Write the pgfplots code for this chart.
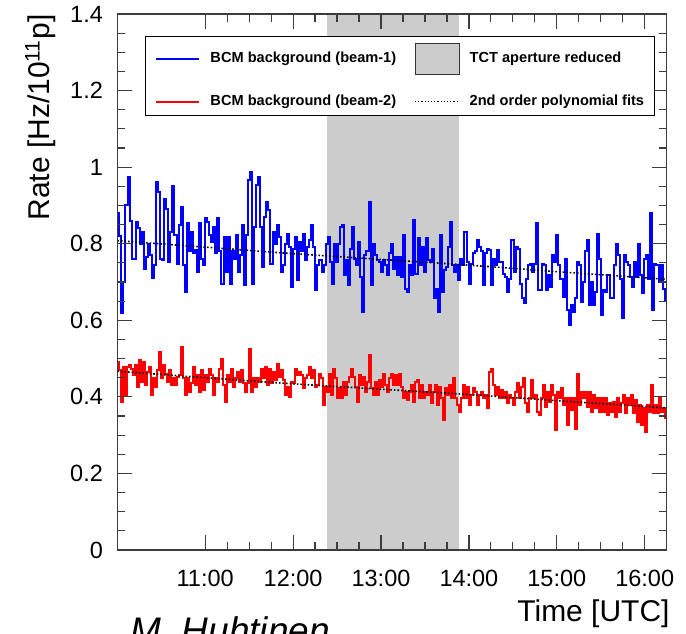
\documentclass[border=0pt]{standalone}
\usepackage{fontspec}
\setmainfont{Liberation Sans}
\usepackage{pgfplots}
\pgfplotsset{compat=1.18}
\usepackage{pgfplotstable}

\definecolor{shade}{RGB}{204,204,204}
\definecolor{axisgray}{RGB}{60,60,60}

% BCM background beam-1 (uniform bins from 10:00 to 16:15)
\pgfplotstableread[row sep=\\]{
y\\
0.88\\ 0.82\\ 0.62\\ 0.70\\ 0.90\\ 0.975\\ 0.86\\ 0.76\\ 0.76\\ 0.857\\
0.84\\ 0.80\\ 0.83\\ 0.735\\ 0.765\\ 0.80\\ 0.77\\ 0.71\\ 0.745\\ 0.96\\
0.935\\ 0.76\\ 0.757\\ 0.918\\ 0.89\\ 0.753\\ 0.83\\ 0.95\\ 0.822\\ 0.748\\
0.848\\ 0.896\\ 0.744\\ 0.674\\ 0.853\\ 0.78\\ 0.83\\ 0.775\\ 0.783\\ 0.726\\
0.853\\ 0.76\\ 0.744\\ 0.866\\ 0.857\\ 0.822\\ 0.805\\ 0.844\\ 0.775\\ 0.866\\
0.78\\ 0.696\\ 0.818\\ 0.726\\ 0.818\\ 0.696\\ 0.78\\ 0.76\\ 0.822\\ 0.726\\
0.77\\ 0.848\\ 0.692\\ 0.822\\ 0.966\\ 0.988\\ 0.696\\ 0.844\\ 0.953\\ 0.975\\
0.844\\ 0.74\\ 0.87\\ 0.91\\ 0.887\\ 0.748\\ 0.83\\ 0.80\\ 0.848\\ 0.818\\
0.726\\ 0.744\\ 0.80\\ 0.826\\ 0.792\\ 0.687\\
0.787\\ 0.818\\ 0.705\\ 0.805\\ 0.78\\ 0.826\\ 0.757\\ 0.792\\ 0.809\\ 0.848\\
0.792\\ 0.679\\ 0.744\\ 0.757\\ 0.726\\ 0.744\\ 0.80\\ 0.818\\ 0.753\\ 0.696\\
0.80\\ 0.753\\ 0.80\\ 0.844\\ 0.848\\ 0.718\\ 0.757\\ 0.692\\ 0.787\\ 0.844\\
0.76\\ 0.744\\ 0.805\\ 0.713\\ 0.622\\ 0.77\\ 0.78\\ 0.909\\ 0.692\\ 0.80\\
0.77\\ 0.757\\ 0.753\\ 0.726\\ 0.757\\ 0.744\\ 0.718\\ 0.775\\ 0.80\\ 0.735\\
0.765\\ 0.718\\ 0.765\\ 0.713\\ 0.822\\ 0.683\\ 0.674\\ 0.744\\ 0.718\\ 0.861\\
0.722\\ 0.814\\ 0.744\\ 0.792\\ 0.726\\ 0.814\\ 0.757\\ 0.753\\ 0.787\\ 0.657\\
0.683\\ 0.622\\ 0.822\\ 0.674\\ 0.731\\ 0.74\\ 0.792\\ 0.857\\ 0.744\\ 0.726\\
0.744\\ 0.705\\ 0.76\\ 0.744\\ 0.83\\ 0.753\\ 0.696\\ 0.748\\ 0.775\\ 0.78\\
0.809\\ 0.792\\
0.78\\ 0.692\\ 0.775\\ 0.787\\ 0.783\\ 0.692\\ 0.76\\ 0.744\\ 0.783\\ 0.753\\
0.753\\ 0.722\\ 0.713\\ 0.674\\ 0.709\\ 0.809\\ 0.726\\ 0.792\\ 0.787\\ 0.696\\
0.657\\ 0.644\\ 0.709\\ 0.744\\ 0.748\\ 0.726\\ 0.748\\ 0.853\\ 0.679\\ 0.679\\
0.748\\ 0.744\\ 0.679\\ 0.718\\ 0.687\\ 0.77\\ 0.753\\ 0.822\\ 0.744\\ 0.709\\
0.661\\ 0.76\\ 0.626\\ 0.587\\ 0.64\\ 0.622\\ 0.657\\ 0.753\\ 0.744\\ 0.648\\
0.70\\ 0.78\\ 0.809\\ 0.64\\ 0.70\\ 0.64\\ 0.674\\ 0.826\\ 0.76\\ 0.613\\
0.679\\ 0.674\\ 0.718\\ 0.657\\ 0.657\\ 0.744\\ 0.80\\ 0.77\\ 0.709\\ 0.605\\
0.77\\ 0.753\\ 0.744\\ 0.713\\ 0.687\\ 0.753\\ 0.713\\ 0.80\\ 0.718\\ 0.67\\
0.76\\ 0.77\\ 0.709\\ 0.879\\ 0.626\\ 0.748\\ 0.744\\ 0.70\\ 0.744\\ 0.683\\
0.652\\ 0.652\\
}\beamone

% BCM background beam-2
\pgfplotstableread[row sep=\\]{
y\\
0.492\\ 0.47\\ 0.387\\ 0.478\\ 0.405\\ 0.478\\ 0.483\\ 0.474\\ 0.457\\ 0.483\\
0.426\\ 0.496\\ 0.439\\ 0.492\\ 0.43\\ 0.465\\ 0.478\\ 0.405\\ 0.448\\ 0.426\\
0.47\\ 0.518\\ 0.448\\ 0.483\\ 0.461\\ 0.439\\ 0.47\\ 0.43\\ 0.448\\ 0.43\\
0.452\\ 0.457\\ 0.531\\ 0.448\\ 0.405\\ 0.448\\ 0.413\\ 0.435\\ 0.478\\ 0.43\\
0.457\\ 0.413\\ 0.47\\ 0.417\\ 0.457\\ 0.439\\ 0.474\\ 0.457\\ 0.405\\ 0.448\\
0.439\\ 0.474\\ 0.50\\ 0.43\\ 0.387\\ 0.457\\ 0.439\\ 0.474\\ 0.426\\ 0.448\\
0.465\\ 0.439\\ 0.47\\ 0.435\\ 0.413\\ 0.435\\ 0.526\\ 0.413\\ 0.448\\ 0.426\\
0.448\\ 0.439\\ 0.474\\ 0.448\\ 0.478\\ 0.43\\ 0.474\\ 0.435\\ 0.465\\ 0.444\\
0.487\\ 0.452\\ 0.47\\ 0.444\\ 0.405\\ 0.426\\ 0.40\\ 0.439\\ 0.435\\ 0.474\\
0.457\\ 0.465\\
0.457\\ 0.422\\ 0.448\\ 0.457\\ 0.478\\ 0.448\\ 0.47\\ 0.426\\ 0.43\\ 0.461\\
0.448\\ 0.378\\ 0.426\\ 0.413\\ 0.461\\ 0.405\\ 0.474\\ 0.448\\ 0.396\\ 0.422\\
0.396\\ 0.439\\ 0.405\\ 0.439\\ 0.452\\ 0.474\\ 0.452\\ 0.426\\ 0.387\\ 0.457\\
0.43\\ 0.452\\ 0.413\\ 0.439\\ 0.509\\ 0.422\\ 0.405\\ 0.439\\ 0.405\\ 0.444\\
0.426\\ 0.461\\ 0.43\\ 0.413\\ 0.448\\ 0.461\\ 0.43\\ 0.457\\ 0.43\\ 0.461\\
0.426\\ 0.396\\ 0.413\\ 0.391\\ 0.413\\ 0.43\\ 0.387\\ 0.439\\ 0.444\\ 0.396\\
0.43\\ 0.396\\ 0.413\\ 0.405\\ 0.43\\ 0.383\\ 0.413\\ 0.43\\ 0.378\\ 0.426\\
0.396\\ 0.339\\ 0.422\\ 0.405\\ 0.43\\ 0.396\\ 0.448\\ 0.396\\ 0.378\\ 0.361\\
0.396\\ 0.43\\ 0.396\\ 0.426\\ 0.378\\ 0.405\\ 0.422\\ 0.413\\ 0.378\\ 0.405\\
0.413\\ 0.396\\
0.405\\ 0.37\\ 0.465\\ 0.474\\ 0.43\\ 0.405\\ 0.426\\ 0.396\\ 0.417\\ 0.396\\
0.413\\ 0.383\\ 0.405\\ 0.396\\ 0.378\\ 0.413\\ 0.435\\ 0.396\\ 0.426\\ 0.448\\
0.383\\ 0.361\\ 0.396\\ 0.444\\ 0.396\\ 0.405\\ 0.361\\ 0.352\\ 0.396\\ 0.43\\
0.374\\ 0.413\\ 0.387\\ 0.43\\ 0.405\\ 0.313\\ 0.413\\ 0.396\\ 0.422\\ 0.378\\
0.396\\ 0.326\\ 0.396\\ 0.365\\ 0.396\\ 0.317\\ 0.461\\ 0.378\\ 0.413\\ 0.396\\
0.413\\ 0.374\\ 0.413\\ 0.361\\ 0.405\\ 0.37\\ 0.396\\ 0.361\\ 0.396\\ 0.361\\
0.396\\ 0.352\\ 0.383\\ 0.361\\ 0.387\\ 0.348\\ 0.396\\ 0.361\\ 0.383\\ 0.405\\
0.357\\ 0.396\\ 0.378\\ 0.405\\ 0.357\\ 0.391\\ 0.335\\ 0.378\\ 0.326\\ 0.37\\
0.309\\ 0.378\\ 0.361\\ 0.43\\ 0.357\\ 0.378\\ 0.357\\ 0.396\\ 0.361\\ 0.37\\
0.344\\ 0.344\\
}\beamtwo

\begin{document}
\begin{tikzpicture}
\begin{axis}[
  at={(58.65pt,41.5pt)}, anchor=south west,
  scale only axis, width=274.7pt, height=268pt,
  xmin=10, xmax=16.25, ymin=0, ymax=1.4,
  xtick={11,12,13,14,15,16},
  xticklabels={11:00,12:00,13:00,14:00,15:00,16:00},
  minor x tick num=3,
  ytick={0,0.2,0.4,0.6,0.8,1,1.2,1.4},
  minor y tick num=3,
  tick pos=both, tick align=inside,
  major tick length=7.5pt, minor tick length=3.8pt,
  every tick/.style={axisgray, line width=0.6pt},
  axis line style={axisgray, line width=0.75pt},
  axis on top,
  /pgf/number format/assume math mode=true,
  tick label style={font=\fontsize{11.75}{14}\selectfont, inner sep=0pt},
  xticklabel style={anchor=north, yshift=-10pt},
  yticklabel style={anchor=east, xshift=-7pt},
  xlabel={Time [UTC]},
  xlabel style={at={(axis description cs:1.006,-0.1325)}, anchor=base east, font=\fontsize{15}{18}\selectfont, inner sep=0pt},
  ylabel={Rate [Hz/10\textsuperscript{11}p]},
  ylabel style={at={(axis description cs:-0.1225,1)}, anchor=base east, font=\fontsize{15}{18}\selectfont, inner sep=0pt},
  legend columns=2,
  legend cell align=left,
  legend style={at={(axis description cs:0.0504,0.959)}, anchor=north west,
    draw=black, line width=0.5pt, fill=white,
    font=\fontsize{7.3}{9}\selectfont\bfseries,
    inner xsep=5pt, inner ysep=3.5pt, row sep=10pt,
    nodes={inner sep=0pt},
    /tikz/every odd column/.append style={column sep=5pt}},
]
\addplot[fill=shade, draw=none, forget plot] coordinates {(12.39,0) (12.39,1.4) (13.886,1.4) (13.886,0)} -- cycle;
\addplot[const plot, color=blue, line width=1pt, forget plot] table[x expr=10+\coordindex*0.023234, y=y] {\beamone};
\addplot[const plot, color=red, line width=1pt, forget plot] table[x expr=10+\coordindex*0.022727, y=y] {\beamtwo};
\addplot[black, densely dotted, line width=0.8pt, smooth, forget plot] coordinates {(10,0.808) (11,0.791) (12,0.774) (13,0.759) (14,0.744) (15,0.727) (16,0.711) (16.25,0.707)};
\addplot[black, densely dotted, line width=0.8pt, smooth, forget plot] coordinates {(10,0.467) (11,0.450) (12,0.434) (13,0.420) (14,0.406) (15,0.390) (16,0.375) (16.25,0.371)};

\addlegendimage{legend image code/.code={\draw[draw=blue, line width=1pt] (0pt,0pt) -- (21.5pt,0pt);}}
\addlegendentry{\makebox[102pt][l]{BCM background (beam-1)}}
\addlegendimage{legend image code/.code={\draw[fill=shade, draw=black!80, line width=0.5pt] (0pt,-7.6pt) rectangle (22pt,7.6pt);}}
\addlegendentry{TCT aperture reduced}
\addlegendimage{legend image code/.code={\draw[draw=red, line width=1pt] (0pt,0pt) -- (21.5pt,0pt);}}
\addlegendentry{\makebox[102pt][l]{BCM background (beam-2)}}
\addlegendimage{legend image code/.code={\draw[draw=black, densely dotted, line width=0.6pt] (0pt,0pt) -- (22pt,0pt);}}
\addlegendentry{2nd order polynomial fits}
\end{axis}
\node[anchor=base west, font=\fontsize{18.5}{22}\selectfont\itshape, inner sep=0pt] at (65pt,-5.25pt) {M. Huhtinen};
\pgfresetboundingbox
\path[use as bounding box] (0pt,0pt) rectangle (343pt,316.5pt);
\end{tikzpicture}
\end{document}
